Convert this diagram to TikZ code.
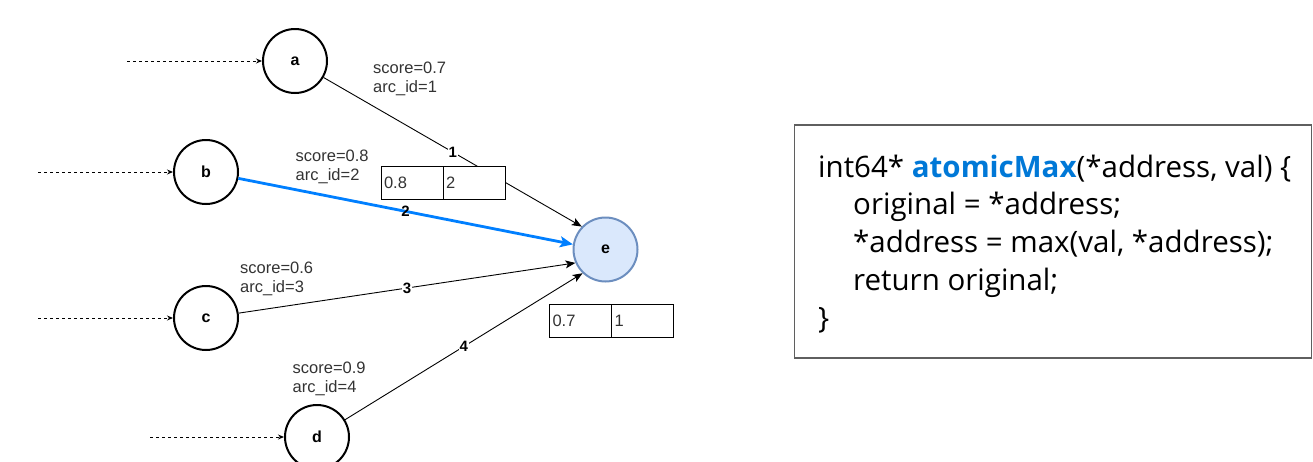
\documentclass[tikz,border=0pt]{standalone}
\usepackage{fontspec}
\setmainfont{Liberation Sans}
\newfontfamily\codefont{Open Sans}
\usetikzlibrary{arrows.meta}
\definecolor{eFill}{HTML}{DAE8FC}
\definecolor{eLine}{HTML}{6C8EBF}
\definecolor{hiBlue}{HTML}{007FFF}
\definecolor{fnBlue}{HTML}{0078D7}
\definecolor{boxGray}{HTML}{5F5F5F}
\definecolor{labelInk}{HTML}{333333}

\begin{document}
\begin{tikzpicture}[x=1pt,y=-1pt,
  vertex/.style={circle, draw, line width=2pt, minimum size=64pt, inner sep=0pt,
    font=\fontsize{16}{16}\selectfont\bfseries},
  target/.style={vertex, draw=eLine, fill=eFill},
  feed/.style={dash pattern=on 3pt off 3pt, line width=0.9pt, -{Stealth[length=6pt,width=5pt]}},
  edgeline/.style={line width=0.9pt, -{Stealth[length=10pt,width=8pt,inset=2.5pt]}},
  hiedge/.style={line width=2.8pt, draw=hiBlue, -{Stealth[length=13pt,width=11pt,inset=3pt]}},
  arcnum/.style={fill=white, inner sep=1pt, font=\fontsize{15}{15}\selectfont\bfseries},
  info/.style={align=left, anchor=north west, inner sep=0pt, text=labelInk,
    font=\fontsize{16.5}{19}\selectfont},
  valcell/.style={draw, line width=0.9pt, fill=white, minimum height=33pt, inner ysep=0pt,
    inner xsep=3pt, text width=56pt, align=left, text=labelInk, font=\fontsize{16.5}{17}\selectfont},
  codeline/.style={anchor=base west, inner sep=0pt, font=\codefont\fontsize{29.5}{29.5}\selectfont}
]
\useasboundingbox (0,0) rectangle (1313,461);

% graph nodes
\node[vertex] (a) at (295,61) {a};
\node[vertex] (b) at (206,172) {b};
\node[vertex] (c) at (206,318) {c};
\node[vertex] (d) at (317,437) {d};
\node[target] (e) at (605.5,249.5) {e};

% loose ends of the incoming dashed arcs
\coordinate (ina) at (127,61);
\coordinate (inb) at (38,172);
\coordinate (inc) at (38,318);
\coordinate (ind) at (150,437);

\draw[feed] (ina) -- (a);
\draw[feed] (inb) -- (b);
\draw[feed] (inc) -- (c);
\draw[feed] (ind) -- (d);

% arcs into e
\draw[edgeline] (a) -- (e.136) node[arcnum, pos=0.5] {1};
\draw[hiedge] (b) -- (e.171) node[arcnum, pos=0.5, fill=none] {2};
\draw[edgeline] (c) -- (e.204) node[arcnum, pos=0.5] {3};
\draw[edgeline] (d) -- (e.226) node[arcnum, pos=0.5] {4};

% arc annotations
\node[info] (lab1) at (373,61.5) {score=0.7\\arc\_id=1};
\node[info] (lab2) at (295.5,150.2) {score=0.8\\arc\_id=2};
\node[info] (lab3) at (240,262.2) {score=0.6\\arc\_id=3};
\node[info] (lab4) at (292.5,361.5) {score=0.9\\arc\_id=4};

% value cells
\node[valcell] (s1) at (412,182.5) {0.8};
\node[valcell] (r1) at (474,182.5) {2};
\node[valcell] (s2) at (580.5,321) {0.7};
\node[valcell] (r2) at (642.5,321) {1};

% pseudo-code panel
\node[draw=boxGray, line width=1.3pt, minimum width=517pt, minimum height=233pt, inner sep=0pt]
  (codebox) at (1053,241.5) {};
\node[codeline] (code1) at (818,177) {int64* \textcolor{fnBlue}{\bfseries atomicMax}(*address, val) \{};
\node[codeline] (code2) at (853,214.5) {original = *address;};
\node[codeline] (code3) at (853,252.5) {*address = max(val, *address);};
\node[codeline] (code4) at (853,290) {return original;};
\node[codeline] (code5) at (818,328) {\}};
\end{tikzpicture}
\end{document}
